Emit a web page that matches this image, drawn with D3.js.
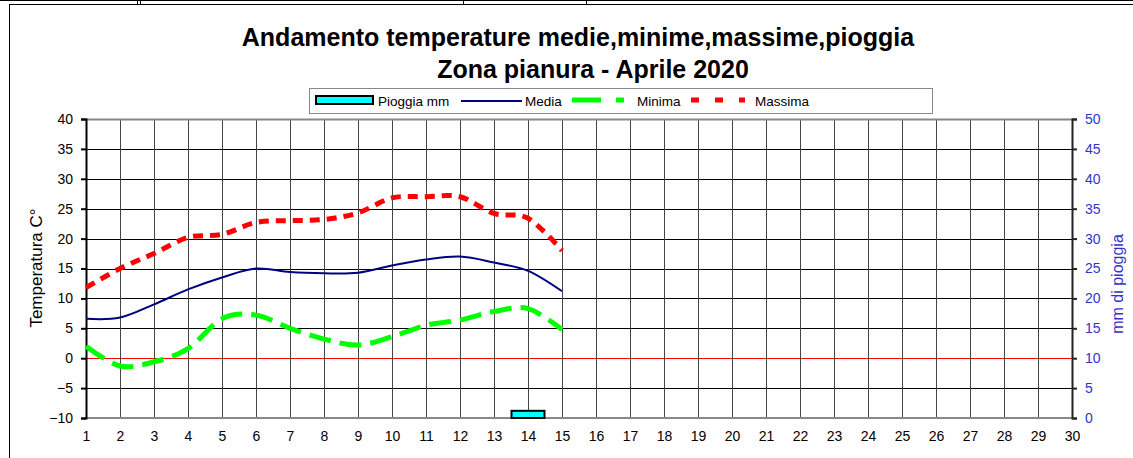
<!DOCTYPE html>
<html>
<head>
  <meta charset="utf-8">
  <title>temperature aprile 2020</title>
  <style>
    body{ margin:0; background:#fff; }
    svg{ font-family: Arial, "Liberation Sans", sans-serif; }
    .title{ font-size:25px; font-weight:bold; text-anchor:middle; fill:#000; }
    .tick text{ font-size:14px; }
    .leg{ font-size:13.5px; fill:#000; }
  </style>
  <script src="https://d3js.org/d3.v7.min.js"></script>
</head>
<body>
  <script>
    // dati
    var giorni = d3.range(1, 31);
    var giorniMisurati = d3.range(1, 16);
    var media   = [6.6, 6.8, 9.0, 11.5, 13.5, 15.0, 14.4, 14.2, 14.3, 15.5, 16.5, 17.0, 16.0, 14.6, 11.2];
    var minima  = [2.0, -1.3, -0.6, 1.6, 6.6, 7.2, 5.0, 3.2, 2.2, 3.6, 5.5, 6.4, 7.8, 8.3, 4.8];
    var massima = [11.8, 15.0, 17.5, 20.2, 20.7, 22.7, 23.0, 23.2, 24.3, 26.8, 27.0, 27.0, 24.2, 23.4, 18.0];
    var pioggiaGiorni = [14];
    var pioggia = [1.2];
    var tickTemp = d3.range(-10, 41, 5);
    var tickMm = d3.range(0, 51, 5);

    var W = 1133, H = 458;
    var mLeft = 86, mRight = 1072, mTop = 119, mBottom = 418;

    var svg = d3.select('body').append('svg')
      .attr('width', W).attr('height', H);

    // cornice della pagina
    svg.append('line').attr('x1',0).attr('x2',W).attr('y1',0.5).attr('y2',0.5).attr('stroke','#000');
    svg.append('line').attr('x1',9).attr('x2',W).attr('y1',4.5).attr('y2',4.5).attr('stroke','#000');
    [137, 140, 463, 586].forEach(function(px){
      svg.append('line').attr('x1',px+0.5).attr('x2',px+0.5).attr('y1',0).attr('y2',4).attr('stroke','#000');
    });
    svg.append('line').attr('x1',9.5).attr('x2',9.5).attr('y1',4).attr('y2',H).attr('stroke','#000');

    var x = d3.scaleLinear().domain([1, 30]).range([mLeft, mRight]);
    var y = d3.scaleLinear().domain([-10, 40]).range([mBottom, mTop]);
    var y2 = d3.scaleLinear().domain([0, 50]).range([mBottom, mTop]);

    // griglia
    svg.append('g').selectAll('line').data(tickTemp).enter().append('line')
      .attr('x1', mLeft).attr('x2', mRight)
      .attr('y1', d => Math.round(y(d)) + 0.5).attr('y2', d => Math.round(y(d)) + 0.5)
      .attr('stroke', d => d === 0 ? '#ff0000' : (d === 40 || d === -10 ? 'none' : '#000'))
      .attr('stroke-width', 1);
    svg.append('g').selectAll('line').data(giorni.slice(1, 29)).enter().append('line')
      .attr('x1', d => Math.round(x(d)) + 0.5).attr('x2', d => Math.round(x(d)) + 0.5)
      .attr('y1', mTop).attr('y2', mBottom)
      .attr('stroke', '#444').attr('stroke-width', 1);

    // bordi area
    svg.append('line').attr('x1', mLeft).attr('x2', mRight).attr('y1', mTop + 0.5).attr('y2', mTop + 0.5)
      .attr('stroke', '#888').attr('stroke-width', 2);
    svg.append('line').attr('x1', mLeft).attr('x2', mRight).attr('y1', mBottom).attr('y2', mBottom)
      .attr('stroke', '#888').attr('stroke-width', 2);

    // barre pioggia
    svg.append('g').selectAll('rect').data(pioggiaGiorni).enter().append('rect')
      .attr('x', d => x(d) - 16.5)
      .attr('y', (d, i) => y2(pioggia[i]))
      .attr('width', 33)
      .attr('height', (d, i) => y2(0) - y2(pioggia[i]))
      .attr('fill', '#00ffff').attr('stroke', '#000').attr('stroke-width', 2);

    // assi
    var axL = svg.append('g').attr('transform', 'translate(' + mLeft + ',0)')
      .call(d3.axisLeft(y).tickValues(tickTemp).tickSize(5).tickPadding(8));
    axL.select('.domain').attr('stroke', '#000').attr('stroke-width', 2);
    axL.selectAll('.tick line').attr('stroke', '#000').attr('stroke-width', 2);
    axL.selectAll('.tick text').attr('fill', '#000').style('font-family', 'Arial');

    var axR = svg.append('g').attr('transform', 'translate(' + mRight + ',0)')
      .call(d3.axisRight(y2).tickValues(tickMm).tickSize(5).tickPadding(8));
    axR.select('.domain').attr('stroke', '#222').attr('stroke-width', 2);
    axR.selectAll('.tick line').attr('stroke', '#222').attr('stroke-width', 2);
    axR.selectAll('.tick text').attr('fill', '#3333cc').style('font-family', 'Arial');

    var axB = svg.append('g').attr('transform', 'translate(0,' + mBottom + ')')
      .call(d3.axisBottom(x).tickValues(giorni).tickFormat(d3.format('d')).tickSize(0).tickPadding(13));
    axB.select('.domain').remove();
    axB.selectAll('.tick text').attr('fill', '#000').style('font-family', 'Arial');

    // titoli assi
    svg.append('text').attr('transform', 'translate(42,268) rotate(-90)')
      .attr('text-anchor', 'middle').style('font-size', '17px').text('Temperatura C°');
    svg.append('text').attr('transform', 'translate(1123,284) rotate(-90)')
      .attr('text-anchor', 'middle').style('font-size', '16px').attr('fill', '#3333cc').text('mm di pioggia');

    // linee
    var linea = d3.line().x((d, i) => x(giorniMisurati[i])).y(d => y(d)).curve(d3.curveCardinal.tension(0));
    svg.append('path').datum(media).attr('d', linea)
      .attr('fill', 'none').attr('stroke', '#000080').attr('stroke-width', 2);
    svg.append('path').datum(minima).attr('d', linea)
      .attr('fill', 'none').attr('stroke', '#00ff00').attr('stroke-width', 5)
      .attr('stroke-dasharray', '22,9');
    svg.append('path').datum(massima).attr('d', linea)
      .attr('fill', 'none').attr('stroke', '#ff0000').attr('stroke-width', 5)
      .attr('stroke-dasharray', '10,7');

    // titolo
    svg.append('text').attr('class', 'title').attr('x', 578).attr('y', 46)
      .text('Andamento temperature medie,minime,massime,pioggia');
    svg.append('text').attr('class', 'title').attr('x', 593).attr('y', 78)
      .text('Zona pianura - Aprile 2020');

    // legenda
    var leg = svg.append('g');
    leg.append('rect').attr('x', 309.5).attr('y', 88.5).attr('width', 623).attr('height', 25)
      .attr('fill', '#fff').attr('stroke', '#888');
    leg.append('rect').attr('x', 316).attr('y', 96).attr('width', 57).attr('height', 8)
      .attr('fill', '#00ffff').attr('stroke', '#000').attr('stroke-width', 2);
    leg.append('text').attr('class', 'leg').attr('x', 378).attr('y', 106).text('Pioggia mm');
    leg.append('line').attr('x1', 461).attr('x2', 522).attr('y1', 101).attr('y2', 101)
      .attr('stroke', '#000080').attr('stroke-width', 2);
    leg.append('text').attr('class', 'leg').attr('x', 525).attr('y', 106).text('Media');
    leg.append('line').attr('x1', 572).attr('x2', 626).attr('y1', 100).attr('y2', 100)
      .attr('stroke', '#00ff00').attr('stroke-width', 5).attr('stroke-dasharray', '29,15,8,20');
    leg.append('text').attr('class', 'leg').attr('x', 637).attr('y', 106).text('Minima');
    leg.append('line').attr('x1', 691).attr('x2', 745).attr('y1', 100).attr('y2', 100)
      .attr('stroke', '#ff0000').attr('stroke-width', 5).attr('stroke-dasharray', '8,16');
    leg.append('text').attr('class', 'leg').attr('x', 755).attr('y', 106).text('Massima');
  </script>
</body>
</html>
